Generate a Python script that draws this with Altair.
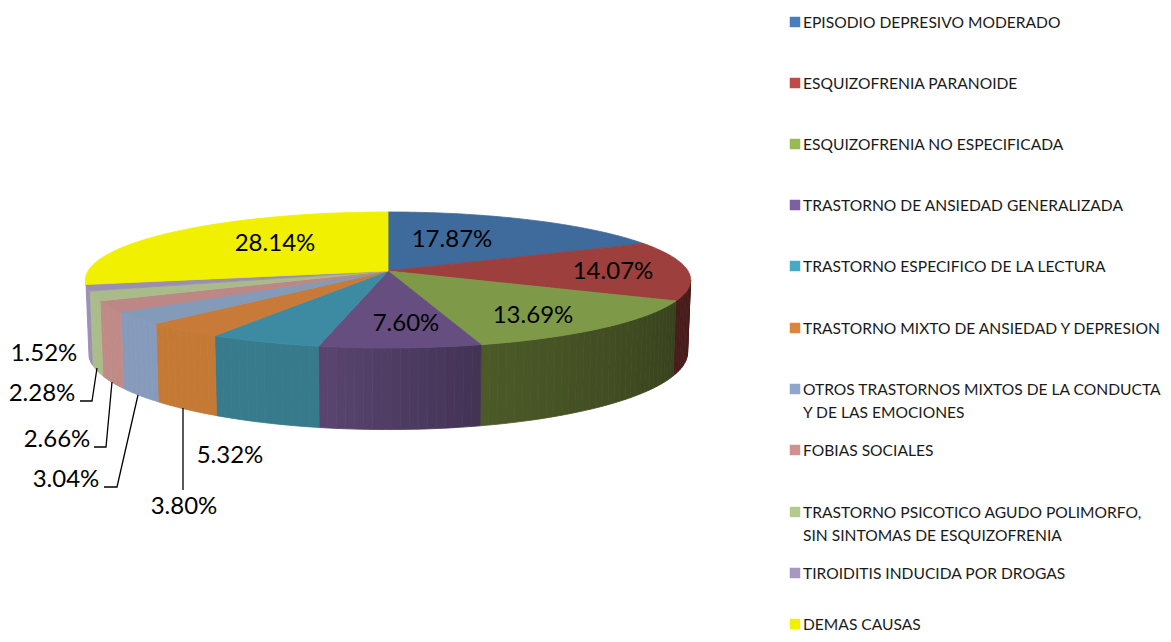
import numpy as np
import pandas as pd
import altair as alt

categories = [
    "EPISODIO DEPRESIVO MODERADO", "ESQUIZOFRENIA PARANOIDE", "ESQUIZOFRENIA NO ESPECIFICADA",
    "TRASTORNO DE ANSIEDAD GENERALIZADA", "TRASTORNO ESPECIFICO DE LA LECTURA",
    "TRASTORNO MIXTO DE ANSIEDAD Y DEPRESION",
    "OTROS TRASTORNOS MIXTOS DE LA CONDUCTA|Y DE LAS EMOCIONES", "FOBIAS SOCIALES",
    "TRASTORNO PSICOTICO AGUDO POLIMORFO,|SIN SINTOMAS DE ESQUIZOFRENIA",
    "TIROIDITIS INDUCIDA POR DROGAS", "DEMAS CAUSAS",
]
values = [17.87, 14.07, 13.69, 7.60, 5.32, 3.80, 3.04, 2.66, 2.28, 1.52, 28.14]
labels = ["17.87%", "14.07%", "13.69%", "7.60%", "5.32%", "3.80%", "3.04%", "2.66%", "2.28%", "1.52%", "28.14%"]

legend_colors = ["#4a7ebb", "#be4b48", "#98b954", "#7d60a0", "#46aac5", "#dd8538",
                 "#8fa6cc", "#d09290", "#b5c98f", "#a698bf", "#f0f000"]
top_colors = ["#3f6b9c", "#9c3f3d", "#7e9a48", "#664e80", "#3d8ba3", "#c87a38",
              "#849ab9", "#bd8785", "#aabb8b", "#9a8fb0", "#f0f000"]
wall_right = ["#3f6b9c", "#471c1a", "#38421d", "#423355", "#367a8c", "#c47a35",
              "#869bbc", "#c08a87", "#abbc8a", "#9a8fb5", "#f0f000"]
wall_left = ["#3f6b9c", "#471c1a", "#4c5a28", "#5a4570", "#377b8d", "#c47a35",
             "#869bbc", "#c08a87", "#abbc8a", "#9a8fb5", "#f0f000"]

label_x = [452, 613, 533, 406, 230, 184, 66, 57, 42, 44, 275]
label_y = [240, 272, 316, 324, 456, 507, 480, 440, 394, 354, 244]
legend_rows = [22, 83, 144, 205, 266, 328, 389, 450, 512, 573, 624]
leaders = {
    "3.80": ([183, 183], [408, 490]),
    "3.04": ([138, 117, 104], [395, 487, 487]),
    "2.66": ([112, 106, 94], [382, 447, 447]),
    "2.28": ([97, 92, 80], [368, 401, 401]),
}

W, H = 1163, 634
FONT = "Lato"
CX, CY, RX, RY, K = 388.0, 271.0, 300.0, 66.8, 0.132
CYB, RXB, RYB = 342.0, 297.0, 76.0


def top_pt(t):
    X, Y = np.sin(t), np.cos(t)
    d = 1 + K * Y
    return [float(CX + RX * X / d), float(CY - RY * Y / d)]


def bot_pt(t):
    X, Y = np.sin(t), np.cos(t)
    d = 1 + K * Y
    return [float(CX + RXB * X / d), float(CYB - RYB * Y / d)]


def mix(a, b, f):
    ca = [int(a[i:i + 2], 16) for i in (1, 3, 5)]
    cb = [int(b[i:i + 2], 16) for i in (1, 3, 5)]
    return "#%02x%02x%02x" % tuple(round(x + (y - x) * f) for x, y in zip(ca, cb))


def feature(ring, fill):
    return {"type": "Feature", "properties": {"fill": fill},
            "geometry": {"type": "Polygon", "coordinates": [ring + [ring[0]]]}}


total = sum(values)
edges = np.radians(np.concatenate([[0], np.cumsum(values)]) / total * 360)
WALL_START, WALL_END = np.radians(97.6), edges[-2]

features = []
for i in range(len(values)):
    a, b = max(edges[i], WALL_START), min(edges[i + 1], WALL_END)
    if b <= a:
        continue
    n = max(2, int(np.degrees(b - a) / 1.5))
    ts = np.linspace(a, b, n + 1)
    for j in range(n):
        f = (j + .5) / n
        ring = [top_pt(ts[j]), top_pt(ts[j + 1]), bot_pt(ts[j + 1]), bot_pt(ts[j])]
        features.append(feature(ring, mix(wall_right[i], wall_left[i], f)))
for i in range(len(values)):
    ts = np.linspace(edges[i], edges[i + 1], max(3, int(np.degrees(edges[i + 1] - edges[i]))))
    features.append(feature([[CX, CY]] + [top_pt(t) for t in ts], top_colors[i]))

pie = alt.Chart(alt.Data(values=features)).mark_geoshape(strokeWidth=0.8, opacity=1, fillOpacity=1).encode(
    fill=alt.Fill("properties.fill:N", scale=None),
    stroke=alt.Stroke("properties.fill:N", scale=None),
).project(type="identity", scale=1, translate=[-8, -8])

PW, PH = W - 8, H - 8
xs = alt.Scale(domain=[8, W], range=[0, PW])
ys = alt.Scale(domain=[8, H], range=[0, PH])

lab_df = pd.DataFrame({"x": label_x, "y": label_y, "t": labels})
pie_labels = alt.Chart(lab_df).mark_text(font=FONT, fontSize=24, color="#000000", align="center", baseline="middle").encode(
    x=alt.X("x:Q", scale=xs, axis=None), y=alt.Y("y:Q", scale=ys, axis=None), text="t:N")

lead_rows = []
for k, (lx, ly) in leaders.items():
    for o, (px, py) in enumerate(zip(lx, ly)):
        lead_rows.append({"k": k, "o": o, "x": px, "y": py})
lead = alt.Chart(pd.DataFrame(lead_rows)).mark_line(color="#000000", strokeWidth=1.3).encode(
    x=alt.X("x:Q", scale=xs, axis=None), y=alt.Y("y:Q", scale=ys, axis=None),
    detail="k:N", order="o:Q")

leg_df = pd.DataFrame({"c": categories, "col": legend_colors, "y": legend_rows})
row_y = alt.Y("y:Q", scale=ys, axis=None)
leg_sq = alt.Chart(leg_df).mark_square(size=110, opacity=1, filled=True).encode(
    x=alt.value(787), y=row_y, color=alt.Color("col:N", scale=None))
leg_tx = alt.Chart(leg_df).mark_text(font=FONT, fontSize=15.6, color="#1a1a1a", align="left", baseline="alphabetic",
                                     dy=6, lineBreak="|", lineHeight=23).encode(
    x=alt.value(795), y=row_y, text="c:N")

chart = (alt.layer(pie, lead, pie_labels, leg_sq, leg_tx)
         .resolve_scale(x="independent", y="independent")
         .properties(width=PW, height=PH, padding=0, autosize=alt.AutoSizeParams(type="none"))
         .configure_view(stroke=None))
chart.save("out.html", embed_options={"renderer": "svg", "actions": False})
